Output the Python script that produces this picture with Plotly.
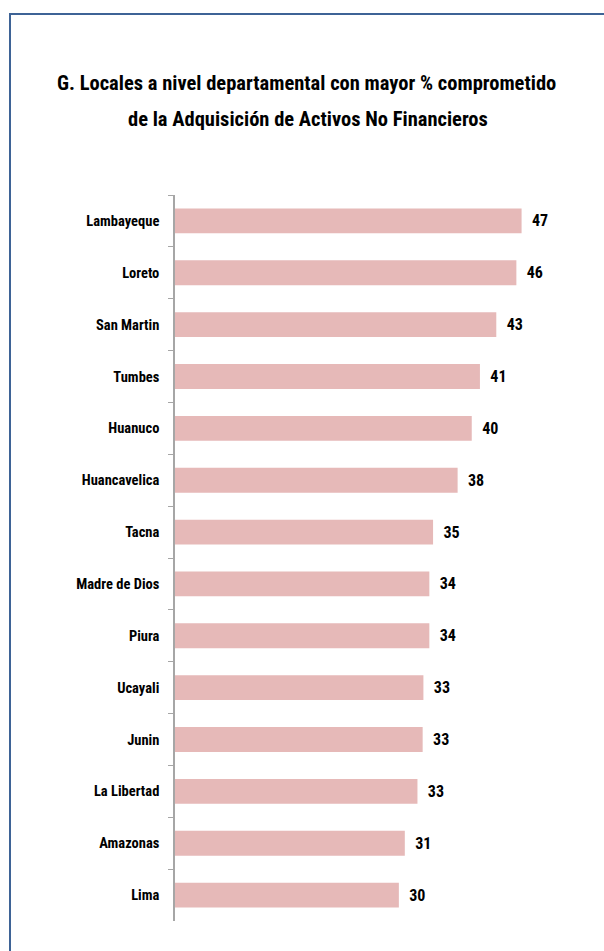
import plotly.graph_objects as go

categories = ["Lambayeque", "Loreto", "San Martin", "Tumbes", "Huanuco", "Huancavelica",
              "Tacna", "Madre de Dios", "Piura", "Ucayali", "Junin", "La Libertad",
              "Amazonas", "Lima"]
values = [46.6, 45.9, 43.2, 41.0, 39.9, 38.0, 34.7, 34.2, 34.2, 33.4, 33.3, 32.6, 30.9, 30.1]

title_line1 = "G. Locales a nivel departamental con mayor % comprometido"
title_line2 = "de la Adquisición de Activos No Financieros"

W, H = 604, 951
FONT = "Roboto Condensed, Carlito, sans-serif"

fig = go.Figure(go.Bar(
    y=categories, x=values, orientation="h",
    marker=dict(color="#E6B9B8", line=dict(width=0)),
    width=0.48,
    texttemplate="  %{x:.0f}", textposition="outside", cliponaxis=False,
    textfont=dict(family=FONT, size=16, color="#000000", weight="bold"),
))

fig.update_layout(
    width=W, height=H,
    margin=dict(l=175, r=14, t=195, b=30),
    paper_bgcolor="white", plot_bgcolor="white",
    showlegend=False,
    font=dict(family=FONT, color="#000000"),
    xaxis=dict(range=[0, 55.8], visible=False, fixedrange=True),
    yaxis=dict(autorange="reversed", showline=True, linecolor="#A6A6A6", linewidth=1.5,
               ticks="outside", tickson="boundaries", ticklen=5, tickcolor="#A6A6A6",
               tickwidth=1.2, showgrid=False, ticklabelstandoff=11, fixedrange=True,
               tickfont=dict(family=FONT, size=14.5, color="#000000", weight="bold")),
    shapes=[dict(type="rect", xref="paper", yref="paper",
                 x0=(10 - 175) / (W - 175 - 14), x1=(W + 20 - 175) / (W - 175 - 14),
                 y0=(-40 - 30) / (H - 195 - 30), y1=(H - 14 - 30) / (H - 195 - 30),
                 line=dict(color="#3E6396", width=2), fillcolor="rgba(0,0,0,0)")],
    annotations=[
        dict(text=title_line1, xref="paper", yref="paper",
             x=(306 - 175) / (W - 175 - 14), y=(H - 83 - 30) / (H - 195 - 30),
             xanchor="center", yanchor="middle", showarrow=False,
             font=dict(family=FONT, size=20.5, color="#000000", weight="bold")),
        dict(text=title_line2, xref="paper", yref="paper",
             x=(308 - 175) / (W - 175 - 14), y=(H - 119 - 30) / (H - 195 - 30),
             xanchor="center", yanchor="middle", showarrow=False,
             font=dict(family=FONT, size=20.5, color="#000000", weight="bold")),
    ],
)

fig.write_html("out.html", config={"displayModeBar": False},
               post_script="document.body.style.margin='0';document.body.style.overflow='hidden';")
